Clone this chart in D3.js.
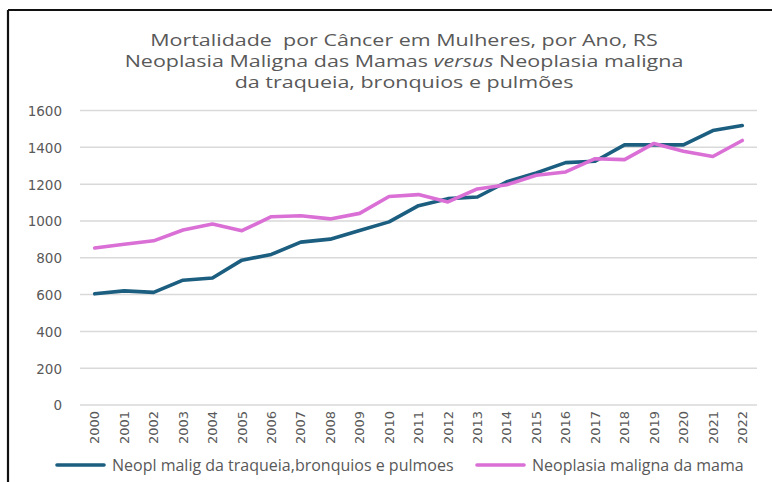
<!DOCTYPE html>
<html><head><meta charset="utf-8">
<script src="https://cdn.jsdelivr.net/npm/d3@7"></script>
<style>body{margin:0;background:#fff}svg{display:block}</style>
</head><body>
<svg id="chart" width="772" height="482"></svg>
<script>
const years = ["2000","2001","2002","2003","2004","2005","2006","2007","2008","2009","2010","2011","2012","2013","2014","2015","2016","2017","2018","2019","2020","2021","2022"];
const pulmao = [604,620,612,678,690,787,818,885,901,948,995,1083,1121,1130,1213,1261,1317,1324,1413,1413,1413,1491,1518];
const mama = [853,873,892,951,983,947,1023,1028,1011,1041,1133,1143,1103,1174,1197,1248,1266,1338,1333,1421,1379,1350,1437];
const yTicks = [0,200,400,600,800,1000,1200,1400,1600];
const titleLines = ["Mortalidade  por Câncer em Mulheres, por Ano, RS", "Neoplasia Maligna das Mamas |versus| Neoplasia maligna", "da traqueia, bronquios e pulmões"];
const seriesNames = ["Neopl malig da traqueia,bronquios e pulmoes", "Neoplasia maligna da mama"];
const colors = ["#1b5e80", "#da6fd6"];

const svg = d3.select("#chart");
const textColor = "#595959";

// frame
svg.append("line").attr("x1",8).attr("x2",772).attr("y1",10).attr("y2",10).attr("stroke","#111").attr("stroke-width",2.2);
svg.append("line").attr("x1",8).attr("x2",8).attr("y1",10).attr("y2",482).attr("stroke","#111").attr("stroke-width",2.2);

// title
const title = svg.append("g").attr("transform","translate(404,0) scale(1.36,1)")
  .append("text").attr("text-anchor","middle").attr("fill",textColor)
  .style("font-family","'Open Sans', sans-serif").style("font-size","15.8px").style("white-space","pre");
titleLines.forEach((ln,i)=>{
  const t = title.append("tspan").attr("x",0).attr("y",46 + i*21);
  ln.split("|").forEach((part,j)=>{
    t.append("tspan").text(part).style("font-style", j%2===1 ? "italic" : "normal");
  });
});

const x = d3.scaleBand().domain(years).range([80,757]);
const y = d3.scaleLinear().domain([0,1600]).range([405,110.5]);

// grid
svg.append("g").selectAll("line").data(yTicks).join("line")
  .attr("x1",80).attr("x2",757).attr("y1",d=>y(d)).attr("y2",d=>y(d))
  .attr("stroke","#d9d9d9").attr("stroke-width",1.5);

// y axis labels
const yAxis = d3.axisLeft(y).tickValues(yTicks).tickFormat(d3.format("d")).tickSize(0).tickPadding(0);
const gy = svg.append("g").attr("transform","translate(62,0)").call(yAxis);
gy.select(".domain").remove();
gy.selectAll("text").attr("fill",textColor).style("font-family","'DejaVu Sans', sans-serif").style("font-size","13.5px").attr("dy","0.36em");

// x axis labels
const xAxis = d3.axisBottom(x).tickSize(0).tickPadding(0);
const gx = svg.append("g").attr("transform","translate(0,409)").call(xAxis);
gx.select(".domain").remove();
gx.selectAll("text").attr("fill",textColor).style("font-family","'DejaVu Sans', sans-serif").style("font-size","13px")
  .attr("transform","rotate(-90)").attr("text-anchor","end").attr("x",-2).attr("y",0).attr("dy","0.36em");

// lines
const line = d3.line().x((d,i)=>x(years[i])+x.bandwidth()/2).y(d=>y(d));
[pulmao, mama].forEach((s,k)=>{
  svg.append("path").datum(s).attr("d",line).attr("fill","none")
    .attr("stroke",colors[k]).attr("stroke-width",3.6).attr("stroke-linejoin","round").attr("stroke-linecap","round");
});

// legend
const legendX = [57, 477];
seriesNames.forEach((n,k)=>{
  const g = svg.append("g").attr("transform",`translate(${legendX[k]},465)`);
  g.append("line").attr("x1",0).attr("x2",47).attr("stroke",colors[k]).attr("stroke-width",3.6).attr("stroke-linecap","round");
  g.append("text").attr("x",55).attr("dy","0.35em").attr("fill",textColor)
    .style("font-family","'Open Sans', sans-serif").style("font-size","16px").text(n);
});
</script>
</body></html>
